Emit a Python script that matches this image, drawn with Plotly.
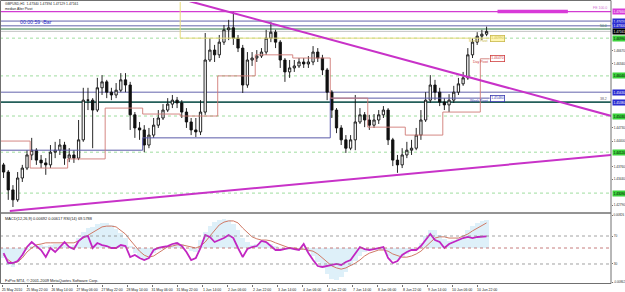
import plotly.graph_objects as go

# ---------------- data ----------------
# centre of each 3-hour bar, in trading hours since 25 May 2010 06:00 (weekends removed)
bar_hours = list(range(1, 312, 3))

opens = [1.4380, 1.4362, 1.4317, 1.4292, 1.4347, 1.4372, 1.4405, 1.4417, 1.4392, 1.4385,
         1.4380, 1.4412, 1.4417, 1.4430, 1.4397, 1.4405, 1.4397, 1.4443, 1.4543, 1.4543,
         1.4518, 1.4574, 1.4589, 1.4563, 1.4556, 1.4568, 1.4594, 1.4581, 1.4506, 1.4473,
         1.4468, 1.4430, 1.4455, 1.4480, 1.4498, 1.4518, 1.4533, 1.4543, 1.4536, 1.4513,
         1.4488, 1.4468, 1.4463, 1.4513, 1.4644, 1.4669, 1.4657, 1.4689, 1.4720, 1.4725,
         1.4699, 1.4674, 1.4581, 1.4644, 1.4649, 1.4654, 1.4664, 1.4699, 1.4714, 1.4689,
         1.4644, 1.4614, 1.4624, 1.4629, 1.4639, 1.4634, 1.4639, 1.4664, 1.4649, 1.4619,
         1.4563, 1.4518, 1.4473, 1.4443, 1.4422, 1.4443, 1.4488, 1.4506, 1.4493, 1.4480,
         1.4493, 1.4506, 1.4518, 1.4443, 1.4392, 1.4380, 1.4405, 1.4417, 1.4422, 1.4455,
         1.4493, 1.4543, 1.4581, 1.4563, 1.4538, 1.4531, 1.4543, 1.4563, 1.4584, 1.4599,
         1.4657, 1.4689, 1.4704, 1.4709]
highs = [1.4385, 1.4367, 1.4329, 1.4362, 1.4380, 1.4417, 1.4448, 1.4422, 1.4405, 1.4397,
         1.4430, 1.4438, 1.4445, 1.4438, 1.4422, 1.4417, 1.4493, 1.4574, 1.4574, 1.4548,
         1.4599, 1.4606, 1.4594, 1.4574, 1.4586, 1.4611, 1.4611, 1.4589, 1.4513, 1.4488,
         1.4480, 1.4473, 1.4498, 1.4518, 1.4533, 1.4548, 1.4556, 1.4551, 1.4543, 1.4523,
         1.4498, 1.4498, 1.4543, 1.4712, 1.4699, 1.4682, 1.4707, 1.4732, 1.4745, 1.4765,
         1.4707, 1.4682, 1.4664, 1.4664, 1.4669, 1.4674, 1.4720, 1.4740, 1.4720, 1.4694,
         1.4649, 1.4644, 1.4644, 1.4649, 1.4649, 1.4654, 1.4679, 1.4674, 1.4657, 1.4624,
         1.4568, 1.4523, 1.4480, 1.4455, 1.4455, 1.4556, 1.4523, 1.4513, 1.4506, 1.4508,
         1.4518, 1.4528, 1.4523, 1.4448, 1.4405, 1.4422, 1.4438, 1.4443, 1.4473, 1.4518,
         1.4563, 1.4606, 1.4594, 1.4574, 1.4548, 1.4558, 1.4579, 1.4599, 1.4614, 1.4674,
         1.4699, 1.4714, 1.4720, 1.4728]
lows = [1.4347, 1.4292, 1.4274, 1.4287, 1.4337, 1.4367, 1.4392, 1.4380, 1.4372, 1.4355,
        1.4372, 1.4397, 1.4405, 1.4380, 1.4387, 1.4385, 1.4392, 1.4438, 1.4518, 1.4422,
        1.4513, 1.4556, 1.4548, 1.4543, 1.4548, 1.4563, 1.4563, 1.4468, 1.4448, 1.4443,
        1.4412, 1.4422, 1.4448, 1.4473, 1.4493, 1.4513, 1.4523, 1.4523, 1.4498, 1.4473,
        1.4455, 1.4450, 1.4455, 1.4506, 1.4639, 1.4639, 1.4649, 1.4682, 1.4694, 1.4682,
        1.4664, 1.4561, 1.4574, 1.4629, 1.4639, 1.4649, 1.4657, 1.4689, 1.4674, 1.4624,
        1.4589, 1.4599, 1.4614, 1.4624, 1.4624, 1.4624, 1.4631, 1.4639, 1.4606, 1.4543,
        1.4498, 1.4460, 1.4430, 1.4410, 1.4417, 1.4417, 1.4483, 1.4475, 1.4468, 1.4473,
        1.4483, 1.4498, 1.4430, 1.4377, 1.4360, 1.4372, 1.4397, 1.4405, 1.4417, 1.4443,
        1.4488, 1.4536, 1.4543, 1.4528, 1.4518, 1.4513, 1.4536, 1.4556, 1.4579, 1.4594,
        1.4649, 1.4682, 1.4694, 1.4704]
closes = [1.4362, 1.4317, 1.4292, 1.4347, 1.4372, 1.4405, 1.4417, 1.4392, 1.4385, 1.4380,
          1.4412, 1.4417, 1.4430, 1.4397, 1.4405, 1.4397, 1.4443, 1.4543, 1.4543, 1.4518,
          1.4574, 1.4589, 1.4563, 1.4556, 1.4568, 1.4594, 1.4581, 1.4506, 1.4473, 1.4468,
          1.4430, 1.4455, 1.4480, 1.4498, 1.4518, 1.4533, 1.4543, 1.4536, 1.4513, 1.4488,
          1.4468, 1.4463, 1.4513, 1.4644, 1.4669, 1.4657, 1.4689, 1.4720, 1.4725, 1.4699,
          1.4674, 1.4581, 1.4644, 1.4649, 1.4654, 1.4664, 1.4699, 1.4714, 1.4689, 1.4644,
          1.4614, 1.4624, 1.4629, 1.4639, 1.4634, 1.4639, 1.4664, 1.4649, 1.4619, 1.4563,
          1.4518, 1.4473, 1.4443, 1.4422, 1.4443, 1.4488, 1.4506, 1.4493, 1.4480, 1.4493,
          1.4506, 1.4518, 1.4443, 1.4392, 1.4380, 1.4405, 1.4417, 1.4422, 1.4455, 1.4493,
          1.4543, 1.4581, 1.4563, 1.4538, 1.4531, 1.4543, 1.4563, 1.4584, 1.4599, 1.4657,
          1.4689, 1.4704, 1.4709, 1.4716]

macd_hist = [-0.0025, -0.0043, -0.0048, -0.0035, -0.0020, -0.0005, 0.0003, 0.0005, 0.0008, 0.0005,
             0.0008, 0.0010, 0.0010, 0.0008, 0.0005, 0.0008, 0.0025, 0.0040, 0.0050, 0.0053,
             0.0060, 0.0063, 0.0063, 0.0058, 0.0048, 0.0038, 0.0025, 0.0003, -0.0013, -0.0023,
             -0.0030, -0.0023, -0.0013, -0.0005, 0.0000, 0.0005, 0.0010, 0.0015, 0.0010, 0.0000,
             -0.0008, -0.0010, 0.0020, 0.0040, 0.0055, 0.0065, 0.0070, 0.0073, 0.0070, 0.0060,
             0.0045, 0.0025, 0.0015, 0.0008, 0.0010, 0.0018, 0.0015, 0.0010, 0.0003, -0.0003,
             -0.0005, -0.0005, -0.0005, -0.0005, -0.0003, -0.0010, -0.0020, -0.0035, -0.0050, -0.0065,
             -0.0078, -0.0080, -0.0073, -0.0060, -0.0045, -0.0033, -0.0020, -0.0010, -0.0005, -0.0003,
             -0.0003, -0.0005, -0.0020, -0.0030, -0.0030, -0.0023, -0.0015, -0.0008, 0.0000, 0.0013,
             0.0030, 0.0045, 0.0045, 0.0033, 0.0023, 0.0018, 0.0020, 0.0025, 0.0033, 0.0045,
             0.0055, 0.0063, 0.0068, 0.0070]
macd_signal = [-0.0018, -0.0030, -0.0038, -0.0035, -0.0025, -0.0010, 0.0000, 0.0008, 0.0010, 0.0013,
               0.0013, 0.0013, 0.0013, 0.0013, 0.0013, 0.0013, 0.0018, 0.0025, 0.0033, 0.0040,
               0.0048, 0.0053, 0.0055, 0.0055, 0.0053, 0.0045, 0.0035, 0.0020, 0.0005, -0.0008,
               -0.0018, -0.0023, -0.0020, -0.0013, -0.0005, 0.0003, 0.0005, 0.0008, 0.0008, 0.0005,
               0.0003, 0.0000, 0.0005, 0.0015, 0.0030, 0.0045, 0.0058, 0.0065, 0.0068, 0.0068,
               0.0063, 0.0050, 0.0038, 0.0028, 0.0023, 0.0020, 0.0020, 0.0018, 0.0013, 0.0008,
               0.0003, 0.0000, 0.0000, -0.0003, -0.0003, -0.0005, -0.0008, -0.0015, -0.0025, -0.0035,
               -0.0045, -0.0050, -0.0053, -0.0050, -0.0045, -0.0038, -0.0030, -0.0020, -0.0013, -0.0008,
               -0.0005, -0.0005, -0.0008, -0.0015, -0.0020, -0.0023, -0.0023, -0.0020, -0.0015, -0.0008,
               0.0003, 0.0015, 0.0025, 0.0028, 0.0028, 0.0025, 0.0025, 0.0025, 0.0030, 0.0035,
               0.0043, 0.0050, 0.0058, 0.0063]
rsi14 = [45.7, 31.4, 31.4, 34.3, 42.9, 54.3, 61.4, 55.7, 50.0, 40.0,
         52.9, 47.1, 54.3, 61.4, 54.3, 51.4, 62.9, 68.6, 70.0, 52.9,
         60.0, 57.1, 55.7, 52.9, 52.9, 57.1, 55.7, 40.0, 42.9, 38.6,
         35.7, 38.6, 50.0, 52.9, 54.3, 55.7, 58.6, 60.0, 55.7, 47.1,
         35.7, 38.6, 52.9, 71.4, 68.6, 61.4, 64.3, 67.1, 71.4, 67.1,
         52.9, 40.0, 51.4, 54.3, 55.7, 62.9, 61.4, 55.7, 50.0, 50.0,
         51.4, 52.9, 51.4, 50.0, 58.6, 45.7, 35.7, 27.1, 25.7, 27.1,
         28.6, 30.0, 28.6, 32.9, 35.7, 44.3, 54.3, 51.4, 50.0, 51.4,
         52.9, 54.3, 38.6, 31.4, 34.3, 42.9, 47.1, 50.0, 50.0, 55.7,
         64.3, 72.9, 64.3, 61.4, 52.9, 58.6, 61.4, 64.3, 67.1, 68.6,
         67.1, 68.6, 68.6, 69.6]

time_label_hours = list(range(0, 305, 16))
time_labels = ["25 May 2010", "25 May 22:00", "26 May 14:00", "27 May 06:00", "27 May 22:00",
               "28 May 14:00", "31 May 06:00", "31 May 22:00", "1 Jun 14:00", "2 Jun 06:00",
               "2 Jun 22:00", "3 Jun 14:00", "4 Jun 06:00", "4 Jun 22:00", "7 Jun 14:00",
               "8 Jun 06:00", "8 Jun 22:00", "9 Jun 14:00", "10 Jun 06:00", "10 Jun 22:00"]

price_ticks = [1.46670, 1.46340, 1.44730, 1.44400, 1.43760, 1.43440, 1.42790]
macd_ticks = [0.00826, -0.00862]
rsi_levels = [70, 30]

day_start_hours = [-6, 18, 42, 66, 90, 114, 138, 162, 186, 210, 234, 258, 282, 306, 312]
day_pivots = [1.4440, 1.4372, 1.4395, 1.4523, 1.4508, 1.4503, 1.4604, 1.4657, 1.4649,
              1.4548, 1.4475, 1.4455, 1.4513, 1.4647, 1.4647]
week_start_hours = [-6, 90, 210, 312]
week_pivots = [1.4417, 1.4448, 1.4548, 1.4548]
month_start_hours = [-6, 114, 312]
month_pivots = [1.4850, 1.4699, 1.4699]

trend_down_hours = [120, 390]
trend_down_prices = [1.4792, 1.4503]
trend_up_hours = [5, 390]
trend_up_prices = [1.4264, 1.4405]

fe_level = 1.4766
fe_band_hours = [317, 362]
upper_blue_levels = [1.4742, 1.4730]
fib_level = 1.4722
bid_price = 1.47161
green_levels = [1.4699, 1.4604, 1.4503, 1.4412, 1.4309]
mid_blue_level = 1.4563
teal_level = 1.4538

# ---------------- layout helpers ----------------
W, H = 625, 292
MR, MB = 14, 8
PW, PH = W - MR, H - MB
FONT = "Liberation Sans"


def pxx(p):
    return p / PW


def pxy(p):
    return 1 - p / PH


MAGENTA = "#c832c8"
BLUE = "#6464ac"
GREEN_DOT = "#86d486"

fig = go.Figure()

# pivot step lines
fig.add_trace(go.Scatter(x=month_start_hours, y=month_pivots, mode="lines",
                         line=dict(shape="hv", color="#e6da7a", width=1), hoverinfo="skip"))
fig.add_trace(go.Scatter(x=week_start_hours, y=week_pivots, mode="lines",
                         line=dict(shape="hv", color="#5a5aa8", width=1), hoverinfo="skip"))
fig.add_trace(go.Scatter(x=day_start_hours, y=day_pivots, mode="lines",
                         line=dict(shape="hv", color="#d07a76", width=0.9), hoverinfo="skip"))

# candles
fig.add_trace(go.Candlestick(
    x=bar_hours, open=opens, high=highs, low=lows, close=closes,
    increasing=dict(line=dict(color="#101010", width=0.9), fillcolor="white"),
    decreasing=dict(line=dict(color="#101010", width=0.9), fillcolor="#101010"),
    whiskerwidth=0, hoverinfo="skip", xaxis="x", yaxis="y"))

# trendlines
fig.add_trace(go.Scatter(x=trend_down_hours, y=trend_down_prices, mode="lines",
                         line=dict(color=MAGENTA, width=2), hoverinfo="skip"))
fig.add_trace(go.Scatter(x=trend_up_hours, y=trend_up_prices, mode="lines",
                         line=dict(color=MAGENTA, width=2), hoverinfo="skip"))
fig.add_trace(go.Scatter(x=fe_band_hours, y=[fe_level, fe_level], mode="lines",
                         line=dict(color="#d83ad8", width=3.5), hoverinfo="skip"))

# indicator panel
fig.add_trace(go.Bar(x=bar_hours, y=macd_hist, width=3, xaxis="x", yaxis="y2",
                     marker=dict(color="#7cc3e6", line=dict(width=0),
                                 pattern=dict(shape="|", size=2, solidity=0.5,
                                              fgcolor="#7cc3e6", bgcolor="rgba(255,255,255,0)")),
                     hoverinfo="skip"))
fig.add_trace(go.Scatter(x=bar_hours, y=macd_signal, mode="lines", xaxis="x", yaxis="y2",
                         line=dict(color="#d07a66", width=1), hoverinfo="skip"))
fig.add_trace(go.Scatter(x=bar_hours, y=rsi14, mode="lines", xaxis="x", yaxis="y3",
                         line=dict(color="#c226c2", width=1.8), hoverinfo="skip"))

shapes = []


def hline(y, color, width=1, dash="solid", yref="y", layer="below"):
    shapes.append(dict(type="line", xref="paper", x0=0, x1=1, yref=yref, y0=y, y1=y,
                       line=dict(color=color, width=width, dash=dash), layer=layer))


for lv in green_levels:
    hline(lv, GREEN_DOT, 0.8, "dot")
hline(fe_level, "#d23cd2", 1.2)
for lv in upper_blue_levels:
    hline(lv, BLUE, 1)
hline(fib_level, "#2e7a46", 1.2)
hline(bid_price, "#b4b4b4", 0.8)
hline(mid_blue_level, BLUE, 1)
hline(teal_level, "#245f5a", 1.8)
for lv in rsi_levels:
    hline(lv, "#8a8a8a", 0.8, "dot", yref="y3", layer="above")
hline(0, "#b85a5a", 0.8, "dot", yref="y2", layer="above")

# panel frames
shapes.append(dict(type="rect", xref="paper", yref="paper", x0=pxx(0.5), x1=1,
                   y0=0.25, y1=pxy(0.5), line=dict(color="#707070", width=1), layer="above"))
shapes.append(dict(type="rect", xref="paper", yref="paper", x0=pxx(0.5), x1=1,
                   y0=pxy(PH - 0.5), y1=0.25, line=dict(color="#707070", width=1), layer="above"))

ann = []


def text(px, py_, s, size=3.4, color="#202020", anchor="left"):
    ann.append(dict(xref="paper", yref="paper", x=pxx(px), y=pxy(py_), text=s, showarrow=False,
                    xanchor=anchor, yanchor="middle", font=dict(family=FONT, size=size, color=color)))


text(3, 4, "GBPUSD,H1  1.47340 1.47394 1.47129 1.47161")
text(3, 9, "median Alter Pivot")
text(18, 22, "00:00:59 -Bar", size=5.2, color="#2a2ac8")
text(3, 218, "MACD(12,26,9) 0.00692 0.00617 RSI(14) 69.5788", size=3.9)
text(3, 280, "FxPro MT4, \u00a9 2001-2009 MetaQuotes Software Corp.", size=3.9)

for s, lv, col in [("FE 100.0", fe_level, "#d070d0"), ("50.0", fib_level, "#2e7a46"),
                   ("38.2", teal_level, "#606060")]:
    ann.append(dict(xref="paper", yref="y", x=pxx(609), y=lv, yshift=3.5, text=s, showarrow=False,
                    xanchor="right", yanchor="middle", font=dict(family=FONT, size=3.5, color=col)))

# pivot labels
label_hour = 312.5
for name, lv, col, boxbg in [("Month Pivot", month_pivots[-1], "#c8b84a", "#fff6b0"),
                             ("Week Pivot", week_pivots[-1], "#3a3ab0", "white"),
                             ("Day Pivot", day_pivots[-1], "#d04040", "white")]:
    ann.append(dict(xref="x", yref="y", x=label_hour, y=lv, yshift=-3, text=name, showarrow=False,
                    xanchor="right", yanchor="middle", font=dict(family=FONT, size=3.5, color=col)))
    ann.append(dict(xref="x", yref="y", x=label_hour, y=lv, text=f"{lv:.5f}", showarrow=False,
                    xanchor="left", yanchor="middle", bgcolor=boxbg, bordercolor=col,
                    borderwidth=0.8, borderpad=0.5, font=dict(family=FONT, size=3.4, color=col)))

# right-hand price boxes
box_specs = ([(fe_level, "#d83ad8", "white")]
             + [(lv, "#2b2bd0", "white") for lv in upper_blue_levels]
             + [(bid_price, "#000000", "white")]
             + [(lv, "#3cd23c", "black") for lv in green_levels]
             + [(mid_blue_level, "#2b2bd0", "white"), (teal_level, "#2b2bd0", "white")])
for lv, bg, fg in box_specs:
    ann.append(dict(xref="paper", yref="y", x=1, xshift=0.5, y=lv, text=f"{lv:.5f}", showarrow=False,
                    xanchor="left", yanchor="middle", bgcolor=bg, borderpad=0.6,
                    font=dict(family=FONT, size=3.2, color=fg)))

fig.update_layout(
    width=W, height=H,
    margin=dict(l=0, r=MR, t=0, b=MB, pad=0),
    paper_bgcolor="white", plot_bgcolor="white",
    showlegend=False, bargap=0,
    xaxis=dict(domain=[0, 1], range=[-1.28, 389.6], anchor="y2", showgrid=False, zeroline=False,
               tickvals=time_label_hours, ticktext=time_labels, ticks="outside", ticklen=2,
               tickcolor="#707070", ticklabelshift=10, ticklabelstandoff=0,
               tickfont=dict(family=FONT, size=3.5, color="#202020"),
               rangeslider=dict(visible=False), fixedrange=True, automargin=False),
    yaxis=dict(domain=[0.25, pxy(2)], range=[1.42589, 1.47900], anchor="x", side="right",
               showgrid=False, zeroline=False, tickvals=price_ticks,
               ticktext=[f"{v:.5f}" for v in price_ticks], ticks="outside", ticklen=1,
               ticklabelstandoff=0,
               tickcolor="#707070", tickfont=dict(family=FONT, size=3.2, color="#303030"),
               automargin=False),
    yaxis2=dict(domain=[0, 0.25], range=[-0.00904, 0.00879], anchor="x", side="right",
                showgrid=False, zeroline=False, tickvals=macd_ticks,
                ticktext=[f"{v:.5f}" for v in macd_ticks], ticks="outside", ticklen=1,
                ticklabelstandoff=0,
                tickcolor="#707070", tickfont=dict(family=FONT, size=2.9, color="#303030"),
                automargin=False),
    yaxis3=dict(overlaying="y2", range=[1.4, 102.9], anchor="x", side="right",
                showgrid=False, zeroline=False, tickvals=rsi_levels,
                ticktext=[str(v) for v in rsi_levels], ticks="outside", ticklen=1,
                ticklabelstandoff=0,
                tickcolor="#707070", tickfont=dict(family=FONT, size=3.2, color="#303030"),
                automargin=False),
    shapes=shapes, annotations=ann,
)

fig.write_html("out.html", config={"displayModeBar": False})
